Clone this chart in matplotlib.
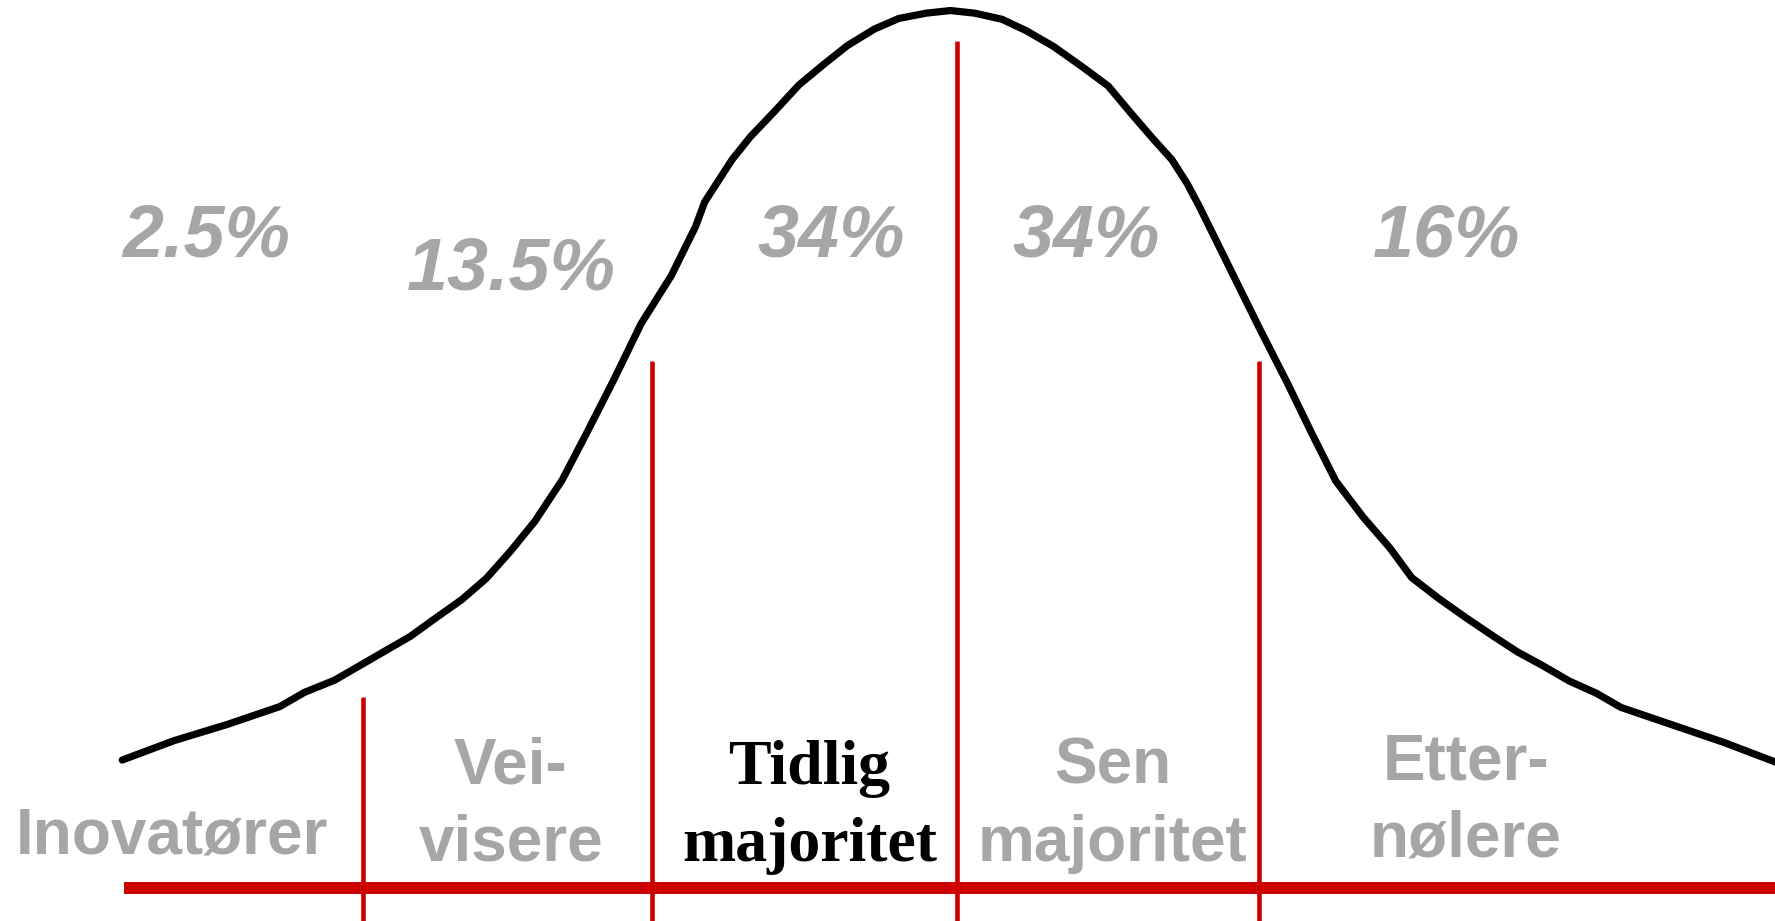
import numpy as np
import matplotlib.pyplot as plt

# kurve lest av bildet: x i standardavvik, y i prosent av toppen
curve_x = [-2.75, -2.58, -2.40, -2.23, -2.15, -2.05, -1.96, -1.88, -1.80, -1.72,
           -1.63, -1.55, -1.47, -1.39, -1.30, -1.22, -1.13, -1.04, -0.94, -0.86,
           -0.83, -0.74, -0.68, -0.60, -0.52, -0.44, -0.36, -0.27, -0.19, -0.10,
           -0.02, 0.06, 0.15, 0.23, 0.32, 0.41, 0.50, 0.58, 0.65, 0.71,
           0.76, 0.80, 0.91, 1.00, 1.09, 1.17, 1.25, 1.34, 1.43, 1.50,
           1.59, 1.68, 1.77, 1.85, 1.93, 2.02, 2.11, 2.19, 2.36, 2.53, 2.72]
curve_y = [14.6, 16.8, 18.7, 20.7, 22.3, 23.7, 25.5, 27.1, 28.7, 30.7,
           32.9, 35.3, 38.4, 41.8, 46.5, 51.8, 57.9, 64.3, 69.8, 75.4,
           78.2, 83.0, 85.6, 88.5, 91.5, 93.8, 96.0, 97.9, 99.1, 99.7,
           100.0, 99.7, 99.0, 97.7, 95.9, 93.7, 91.4, 88.1, 85.3, 83.0,
           80.3, 77.7, 70.0, 63.7, 57.6, 51.9, 46.4, 42.3, 38.7, 35.4,
           33.0, 30.8, 28.7, 26.9, 25.4, 23.6, 22.2, 20.6, 18.6, 16.6, 14.1]

# skillelinjer
div_x = [-1.955, -1.004, 0.0, 0.996]
div_top = [21.8, 60.1, 96.5, 60.1]

pct_labels = ['2.5%', '13.5%', '34%', '34%', '16%']
pct_x = [-2.474, -1.466, -0.414, 0.429, 1.616]
pct_y = [74.2, 70.4, 74.2, 74.2, 74.2]

groups = ['Inovatører', 'Vei-\nvisere', 'Tidlig\nmajoritet', 'Sen\nmajoritet', 'Etter-\nnølere']
group_x = [-2.586, -1.470, -0.485, 0.515, 1.679]
group_base = [3.9, 3.1, 3.1, 3.1, 3.6]   # grunnlinje for nederste linje
line_gap = 8.8

red = '#CC0000'
grey = '#A6A6A6'

fig = plt.figure(figsize=(17.75, 9.21), dpi=100)
ax = fig.add_axes([0, 0, 1, 1])
ax.set_xlim(-3.153, 2.698)
ax.set_ylim(-3.74, 101.2)
ax.axis('off')

ax.plot([-2.743, 2.8], [0, 0], color=red, lw=8.6, solid_capstyle='butt', zorder=2)
for x, top in zip(div_x, div_top):
    ax.plot([x, x], [-5, top], color=red, lw=3.3, solid_capstyle='butt', zorder=2)

ax.plot(curve_x, curve_y, color='black', lw=5.2, solid_capstyle='round',
        solid_joinstyle='miter', zorder=3)

for t, x, y in zip(pct_labels, pct_x, pct_y):
    ax.text(x, y, t, ha='center', va='center', fontsize=53, color=grey,
            family='Liberation Sans', weight='bold', style='italic')

for i, (g, x, b) in enumerate(zip(groups, group_x, group_base)):
    lines = g.split('\n')
    if i == 2:
        kw = dict(family='Liberation Serif', weight='bold', color='black', fontsize=46)
    else:
        kw = dict(family='Liberation Sans', weight='bold', color=grey, fontsize=46)
    for j, ln in enumerate(reversed(lines)):
        yy = b + j * line_gap
        if i == 4 and j == 1:
            yy = 12.4
        ax.text(x, yy, ln, ha='center', va='baseline', **kw)

fig.savefig('out.png', dpi=100)
